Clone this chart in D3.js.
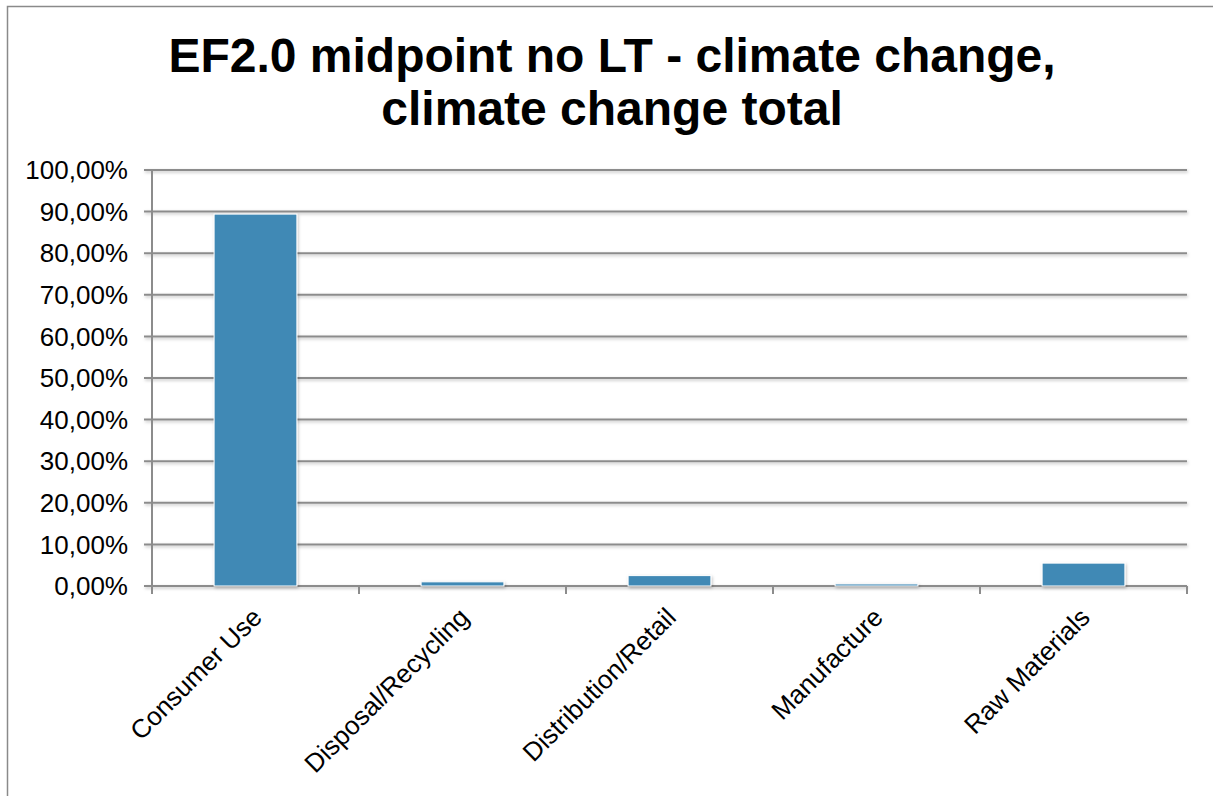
<!DOCTYPE html>
<html>
<head>
<meta charset="utf-8">
<script src="https://cdn.jsdelivr.net/npm/d3@7"></script>
<style>
  body { margin: 0; background: #fff; }
  text { font-family: "Liberation Sans", Arial, sans-serif; }
</style>
</head>
<body>
<div id="chart"></div>
<script>
const categories = ["Consumer Use", "Disposal/Recycling", "Distribution/Retail", "Manufacture", "Raw Materials"];
const shares = [0.894, 0.010, 0.025, 0.005, 0.055];
const tickValues = [0, 0.1, 0.2, 0.3, 0.4, 0.5, 0.6, 0.7, 0.8, 0.9, 1.0];
const titleLines = ["EF2.0 midpoint no LT - climate change,", "climate change total"];

const width = 1213, height = 796;
const margin = { top: 170, right: 26, bottom: 210, left: 152 };

const svg = d3.select("#chart").append("svg")
  .attr("width", width)
  .attr("height", height);

// soft shadow under bars and grid lines
const defs = svg.append("defs");
const f = defs.append("filter").attr("id", "shadow")
  .attr("filterUnits", "userSpaceOnUse")
  .attr("x", 0).attr("y", 0).attr("width", width).attr("height", height);
f.append("feDropShadow").attr("dx", 1).attr("dy", 1.5).attr("stdDeviation", 1.5)
  .attr("flood-color", "#000").attr("flood-opacity", 0.25);

// chart frame (cut off on right and bottom)
svg.append("path")
  .attr("d", `M7.5,${height} V6.5 H${width}`)
  .attr("fill", "none")
  .attr("stroke", "#8a8a8a")
  .attr("stroke-width", 1.5);

const x = d3.scaleBand()
  .domain(categories)
  .range([margin.left, width - margin.right])
  .paddingInner(0.6)
  .paddingOuter(0.3);

const y = d3.scaleLinear()
  .domain([0, 1])
  .range([height - margin.bottom, margin.top]);

// title
svg.append("text")
  .attr("text-anchor", "middle")
  .attr("font-size", 48)
  .attr("font-weight", "bold")
  .attr("fill", "#000")
  .selectAll("tspan")
  .data(titleLines)
  .join("tspan")
  .attr("x", 612)
  .attr("y", (d, i) => 72 + i * 53)
  .text(d => d);

// gridlines
svg.append("g")
  .selectAll("line")
  .data(tickValues)
  .join("line")
  .attr("x1", margin.left - 8)
  .attr("x2", width - margin.right)
  .attr("y1", d => y(d))
  .attr("y2", d => y(d))
  .attr("stroke", "#8c8c8c")
  .attr("stroke-width", 2)
  .attr("filter", "url(#shadow)");

// y axis line
svg.append("line")
  .attr("x1", margin.left).attr("x2", margin.left)
  .attr("y1", y(1)).attr("y2", y(0) + 8)
  .attr("stroke", "#8c8c8c")
  .attr("stroke-width", 2);

// x ticks at category boundaries
const boundaries = d3.range(categories.length + 1).map(i => margin.left + i * (width - margin.right - margin.left) / categories.length);
svg.append("g")
  .selectAll("line")
  .data(boundaries)
  .join("line")
  .attr("x1", d => d).attr("x2", d => d)
  .attr("y1", y(0)).attr("y2", y(0) + 8)
  .attr("stroke", "#8c8c8c")
  .attr("stroke-width", 2);

// y labels
const fmt = v => d3.format(".2f")(v * 100).replace(".", ",") + "%";
svg.append("g")
  .selectAll("text")
  .data(tickValues)
  .join("text")
  .attr("x", margin.left - 24)
  .attr("y", d => y(d))
  .attr("dy", "0.35em")
  .attr("text-anchor", "end")
  .attr("font-size", 26)
  .attr("fill", "#000")
  .text(fmt);

// bars
svg.append("g")
  .selectAll("rect")
  .data(categories)
  .join("rect")
  .attr("x", d => x(d))
  .attr("width", x.bandwidth())
  .attr("y", (d, i) => y(shares[i]))
  .attr("height", (d, i) => y(0) - y(shares[i]))
  .attr("fill", "#4189b5")
  .attr("stroke", "#fff")
  .attr("stroke-width", 1)
  .attr("filter", "url(#shadow)");

// x labels
svg.append("g")
  .selectAll("text")
  .data(categories)
  .join("text")
  .attr("text-anchor", "end")
  .attr("font-size", 26)
  .attr("fill", "#000")
  .attr("transform", d => `translate(${x(d) + x.bandwidth() / 2 + 8},${y(0) + 33}) rotate(-45)`)
  .text(d => d);
</script>
</body>
</html>
